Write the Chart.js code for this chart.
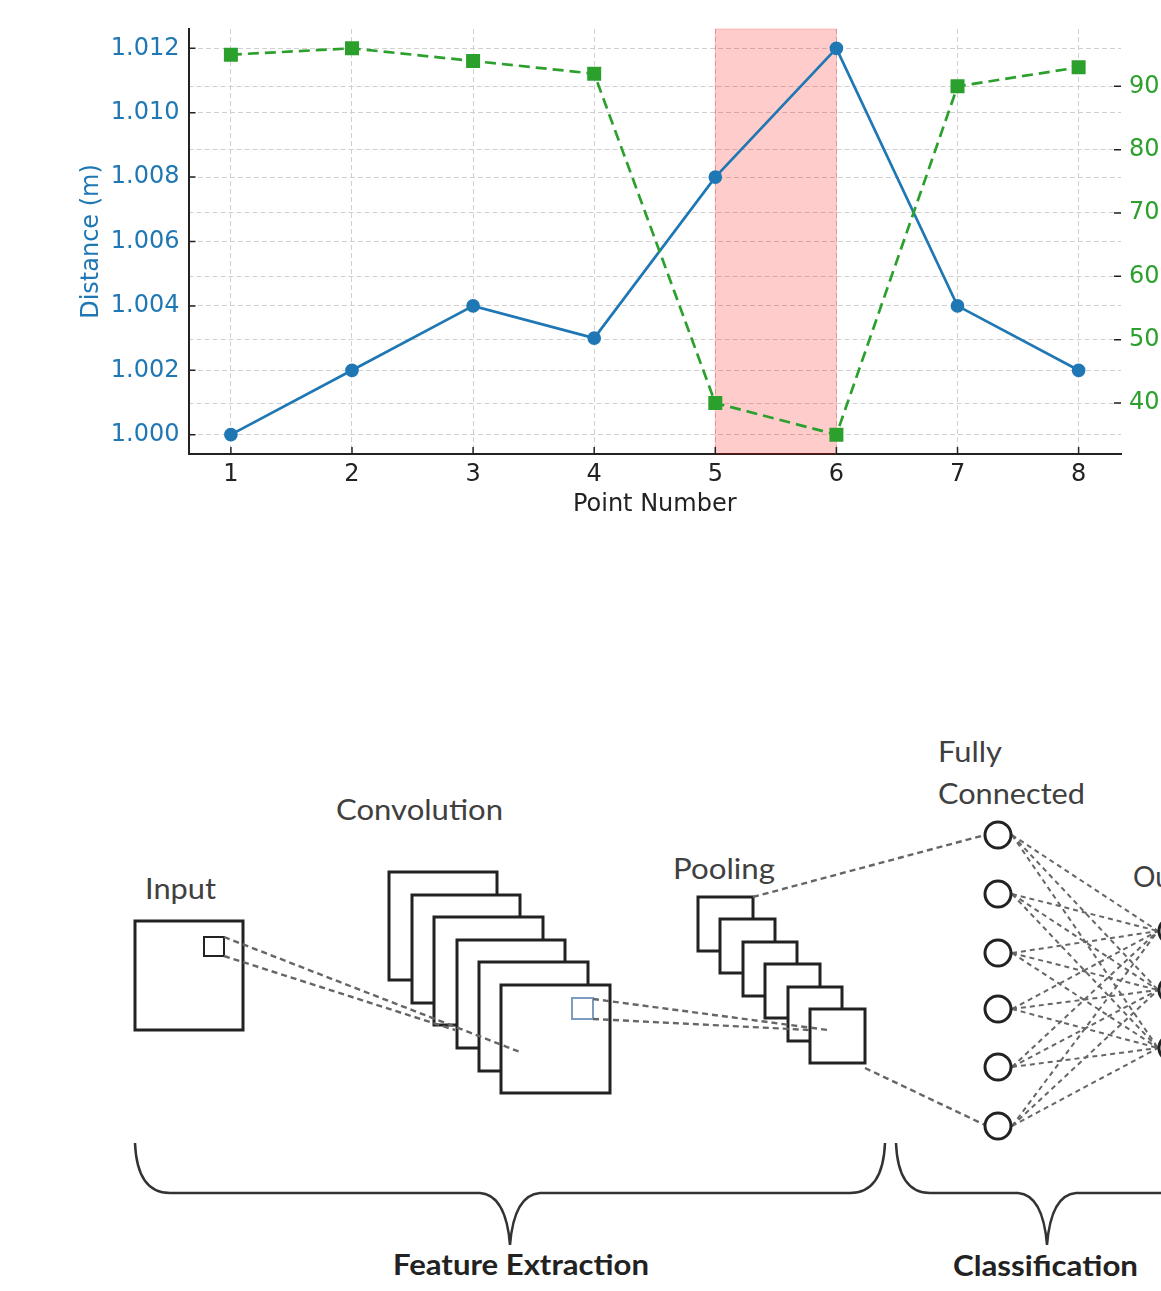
<!DOCTYPE html>
<html>
<head>
<meta charset="utf-8">
<script src="https://cdn.jsdelivr.net/npm/chart.js@4"></script>
<style>
  body { margin: 0; background: #fff; }
  .graph { position: absolute; left: 0; top: 0; width: 1161px; height: 520px; }
  .diagram { position: absolute; left: 0; top: 520px; }
  .diagram text { font-family: Lato, "Open Sans", sans-serif; fill: #404040; }
</style>
</head>
<body>
<div class="graph"><canvas id="forecastChart" width="1161" height="520"></canvas></div>

<svg class="diagram" width="1161" height="771" viewBox="0 520 1161 771">
  <g fill="none" stroke="#222" stroke-width="3">
    <rect x="135" y="921" width="108" height="109" fill="#fff"/>
    <rect x="204" y="937" width="20" height="19" stroke-width="2"/>
  </g>
  <g fill="#fff" stroke="#222" stroke-width="3">
    <rect x="389" y="872" width="108" height="108"/>
    <rect x="412" y="895" width="108" height="108"/>
    <rect x="434" y="917" width="109" height="108"/>
    <rect x="457" y="940" width="108" height="108"/>
    <rect x="479" y="962" width="109" height="109"/>
    <rect x="501" y="985" width="109" height="108"/>
  </g>
  <rect x="572" y="998" width="21" height="21" fill="none" stroke="#7c9cc0" stroke-width="2"/>
  <g fill="#fff" stroke="#222" stroke-width="3">
    <rect x="698" y="897" width="55" height="54"/>
    <rect x="720" y="919" width="55" height="54"/>
    <rect x="743" y="942" width="54" height="54"/>
    <rect x="765" y="964" width="55" height="54"/>
    <rect x="788" y="987" width="54" height="54"/>
    <rect x="810" y="1009" width="55" height="54"/>
  </g>
  <g stroke="#666" stroke-width="2.4" stroke-dasharray="6 4" fill="none">
    <line x1="224" y1="937" x2="520" y2="1052"/>
    <line x1="224" y1="956" x2="455" y2="1030"/>
    <line x1="593" y1="999" x2="828" y2="1030"/>
    <line x1="593" y1="1019" x2="810" y2="1030"/>
    <line x1="753" y1="897" x2="985" y2="835"/>
    <line x1="865" y1="1068" x2="985" y2="1125"/>
  </g>
  <g id="fc-links" stroke="#666" stroke-width="2" stroke-dasharray="5 4" fill="none"></g>
  <g id="fc-nodes" fill="#fff" stroke="#222" stroke-width="3"></g>
  <g fill="none" stroke="#333" stroke-width="2.5">
    <path d="M135,1143 Q137,1193 170,1193 L480,1193 Q506,1195 510,1245 Q514,1195 540,1193 L850,1193 Q883,1193 885,1143"/>
    <path d="M896,1143 Q898,1193 930,1193 L1018,1193 Q1043,1195 1047,1245 Q1051,1195 1076,1193 L1170,1193"/>
  </g>
  <g font-size="28" lengthAdjust="spacingAndGlyphs">
    <text x="145" y="899" textLength="71" lengthAdjust="spacingAndGlyphs">Input</text>
    <text x="336" y="820" textLength="167" lengthAdjust="spacingAndGlyphs">Convolution</text>
    <text x="673" y="879" textLength="102" lengthAdjust="spacingAndGlyphs">Pooling</text>
    <text x="938" y="762" textLength="64" lengthAdjust="spacingAndGlyphs">Fully</text>
    <text x="938" y="804" textLength="147" lengthAdjust="spacingAndGlyphs">Connected</text>
    <text x="1133" y="887">Output</text>
  </g>
  <text x="393" y="1275" font-size="28" font-weight="bold" textLength="256" lengthAdjust="spacingAndGlyphs" style="fill:#222">Feature Extraction</text>
  <text x="953" y="1276" font-size="28" font-weight="bold" textLength="185" lengthAdjust="spacingAndGlyphs" style="fill:#222">Classification</text>
</svg>

<script>
// chart data
const pointNumbers = [1, 2, 3, 4, 5, 6, 7, 8];
const distances = [1.000, 1.002, 1.004, 1.003, 1.008, 1.012, 1.004, 1.002];
const secondSeries = [95, 96, 94, 92, 40, 35, 90, 93];
const leftTicks = [1.000, 1.002, 1.004, 1.006, 1.008, 1.010, 1.012];
const rightTicks = [40, 50, 60, 70, 80, 90];
const highlightRange = [5, 6];

const blue = '#1f77b4';
const green = '#2ca02c';
const gridColor = '#d0d0d0';
const font = { family: 'DejaVu Sans', size: 24 };

// pink band between two point numbers
const bandPlugin = {
  id: 'band',
  beforeDatasetsDraw(chart) {
    const { ctx, chartArea, scales } = chart;
    const x0 = scales.x.getPixelForValue(highlightRange[0]);
    const x1 = scales.x.getPixelForValue(highlightRange[1]);
    ctx.save();
    ctx.fillStyle = 'rgba(255,0,0,0.2)';
    ctx.fillRect(x0, chartArea.top, x1 - x0, chartArea.bottom - chartArea.top);
    ctx.strokeStyle = 'rgba(255,0,0,0.2)';
    ctx.lineWidth = 1;
    ctx.strokeRect(x0, chartArea.top, x1 - x0, chartArea.bottom - chartArea.top);
    ctx.restore();
  }
};

// matplotlib style ticks pointing into the plot
const inwardTicks = {
  id: 'inwardTicks',
  afterDraw(chart) {
    const { ctx, chartArea, scales } = chart;
    ctx.save();
    ctx.strokeStyle = '#222';
    ctx.lineWidth = 1.5;
    ctx.beginPath();
    scales.x.ticks.forEach(t => {
      const px = scales.x.getPixelForValue(t.value);
      ctx.moveTo(px, chartArea.bottom);
      ctx.lineTo(px, chartArea.bottom - 7);
    });
    scales.y.ticks.forEach(t => {
      const py = scales.y.getPixelForValue(t.value);
      ctx.moveTo(chartArea.left, py);
      ctx.lineTo(chartArea.left + 7, py);
    });
    scales.y1.ticks.forEach(t => {
      const py = scales.y1.getPixelForValue(t.value);
      ctx.moveTo(chartArea.right - 7, py);
      ctx.lineTo(chartArea.right, py);
    });
    ctx.stroke();
    ctx.restore();
  }
};

const ctx = document.getElementById('forecastChart').getContext('2d');
window.forecastChart = new Chart(ctx, {
  type: 'line',
  data: {
    datasets: [{
      label: 'Distance (m)',
      data: pointNumbers.map((p, i) => ({ x: p, y: distances[i] })),
      yAxisID: 'y',
      borderColor: blue,
      backgroundColor: blue,
      borderWidth: 2.7,
      pointRadius: 5.5,
      pointStyle: 'circle',
      order: 1
    }, {
      label: 'Second series',
      data: pointNumbers.map((p, i) => ({ x: p, y: secondSeries[i] })),
      yAxisID: 'y1',
      borderColor: green,
      backgroundColor: green,
      borderWidth: 2.7,
      borderDash: [11, 6],
      pointRadius: 8,
      pointStyle: 'rect',
      order: 0
    }]
  },
  options: {
    responsive: false,
    animation: false,
    layout: { padding: { top: 29, left: 77, right: 0, bottom: 0 } },
    plugins: {
      legend: { display: false },
      tooltip: { enabled: false }
    },
    scales: {
      x: {
        type: 'linear',
        min: 0.65,
        max: 8.35,
        afterBuildTicks: s => { s.ticks = pointNumbers.map(v => ({ value: v })); },
        afterFit: s => { s.height = 66; },
        grid: { color: gridColor, lineWidth: 1, drawTicks: false },
        border: { display: true, color: '#222', width: 2, dash: [5, 3] },
        ticks: { color: '#222', font: font, padding: 6 },
        title: { display: true, text: 'Point Number', color: '#222', font: font, padding: { top: 0, bottom: 1 } }
      },
      y: {
        position: 'left',
        min: 0.9994,
        max: 1.0126,
        afterBuildTicks: s => { s.ticks = leftTicks.map(v => ({ value: v })); },
        afterFit: s => { s.width = 111.5; },
        grid: { color: gridColor, lineWidth: 1, drawTicks: false },
        border: { display: true, color: '#222', width: 2, dash: [5, 3] },
        ticks: { color: blue, font: font, padding: 9, callback: v => v.toFixed(3) },
        title: { display: true, text: 'Distance (m)', color: blue, font: font, padding: 0 }
      },
      y1: {
        position: 'right',
        min: 31.95,
        max: 99.05,
        afterBuildTicks: s => { s.ticks = rightTicks.map(v => ({ value: v })); },
        afterFit: s => { s.width = 40; },
        grid: { color: gridColor, lineWidth: 1, drawTicks: false },
        border: { display: false, dash: [5, 3] },
        ticks: { color: green, font: font, padding: 8 }
      }
    }
  },
  plugins: [bandPlugin, inwardTicks]
});

// fully connected layer of the diagram
const svgNS = 'http://www.w3.org/2000/svg';
const fcNodes = [835, 894, 953, 1009, 1067, 1126];
const outNodes = [931, 990, 1048];
const links = document.getElementById('fc-links');
const nodes = document.getElementById('fc-nodes');
fcNodes.forEach(a => {
  outNodes.forEach(b => {
    const l = document.createElementNS(svgNS, 'line');
    l.setAttribute('x1', 1012); l.setAttribute('y1', a);
    l.setAttribute('x2', 1158); l.setAttribute('y2', b);
    links.appendChild(l);
  });
});
fcNodes.forEach(y => {
  const c = document.createElementNS(svgNS, 'circle');
  c.setAttribute('cx', 998); c.setAttribute('cy', y); c.setAttribute('r', 13);
  nodes.appendChild(c);
});
outNodes.forEach(y => {
  const c = document.createElementNS(svgNS, 'circle');
  c.setAttribute('cx', 1172); c.setAttribute('cy', y); c.setAttribute('r', 13);
  nodes.appendChild(c);
});
</script>
</body>
</html>
